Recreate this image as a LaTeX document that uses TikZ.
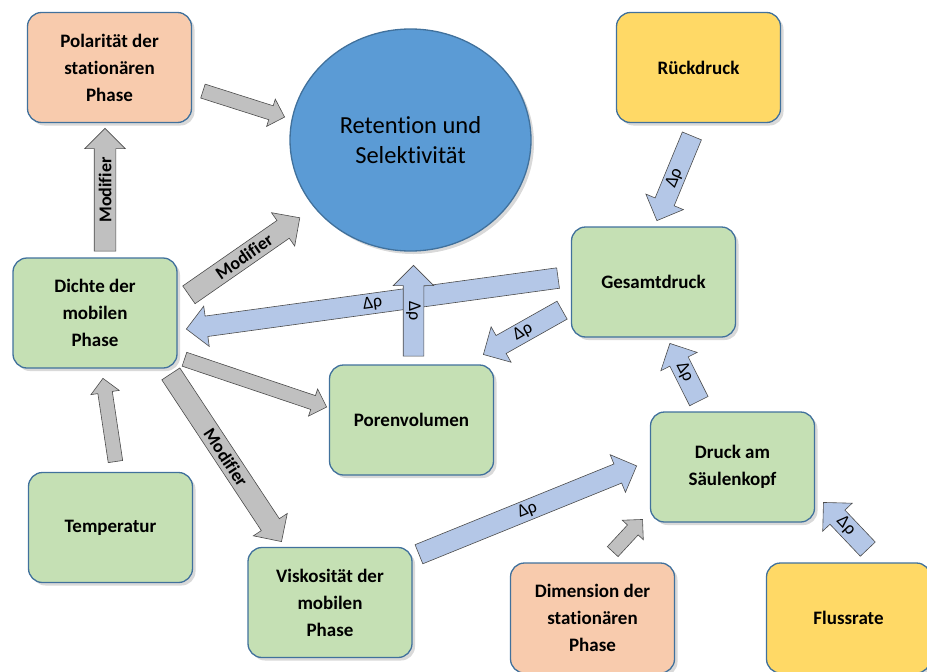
\documentclass[tikz,border=0pt]{standalone}
\usepackage{fontspec}
\setmainfont{Carlito}[Ligatures=NoCommon]
\usetikzlibrary{shapes.geometric,shapes.arrows,shadows,calc}

\definecolor{boxgreen}{HTML}{C5E0B4}
\definecolor{boxpeach}{HTML}{F8CBAD}
\definecolor{boxyellow}{HTML}{FFD966}
\definecolor{retblue}{HTML}{5B9BD5}
\definecolor{boxline}{HTML}{41719C}
\definecolor{arrowblue}{HTML}{B4C7E7}
\definecolor{arrowgray}{HTML}{C0C0C0}

\newcommand{\barrow}[5][]{%
	\path let \p1=($(#4)-(#3)$), \n1={veclen(\x1,\y1)} in
		(#3) -- (#4)
		node[#2, pos=0, sloped, allow upside down, anchor=tail, minimum height=\n1] {}
		node[pos=.5, sloped, arrow label, #1] {#5};
}

\begin{document}
\begin{tikzpicture}[x=1pt, y=1pt]
		\tikzset{
			factor/.style = {rectangle, rounded corners=14pt, draw=boxline, line width=1.3pt,
					minimum width=164pt, minimum height=110pt, inner sep=0pt, align=center,
					font=\bfseries\fontsize{19}{27}\selectfont,
					drop shadow={shadow xshift=3pt, shadow yshift=-3pt, opacity=.3}},
			green factor/.style = {factor, fill=boxgreen},
			peach factor/.style = {factor, fill=boxpeach},
			yellow factor/.style = {factor, fill=boxyellow},
			target/.style = {ellipse, draw=boxline, line width=1.3pt, fill=retblue,
					minimum width=241pt, minimum height=222pt, inner sep=0pt, align=center,
					font=\fontsize{24.5}{30}\selectfont,
					drop shadow={shadow xshift=3pt, shadow yshift=-3pt, opacity=.3}},
			block arrow/.style = {single arrow, draw=black!70, line width=.6pt, inner sep=0pt,
					minimum width=0pt, single arrow head indent=0pt, single arrow tip angle=90},
			gray arrow/.style = {block arrow, fill=arrowgray, inner ysep=10.5pt, single arrow head extend=9.5pt},
			small gray arrow/.style = {block arrow, fill=arrowgray, inner ysep=7pt, single arrow head extend=7pt},
			blue arrow/.style = {block arrow, fill=arrowblue, inner ysep=10pt, single arrow head extend=10pt},
			arrow label/.style = {inner sep=0pt, font=\fontsize{18}{20}\selectfont},
			mod label/.style = {font=\bfseries\fontsize{18}{20}\selectfont}
		}

		\useasboundingbox (0,0) rectangle (927,-672);

		\node[peach factor] (pol) at (109.5,-67.5) {Polarität der\\stationären\\Phase};
		\node[target] (ret) at (410.5,-140) {Retention und\\Selektivität};
		\node[yellow factor] (rueck) at (698.5,-67.5) {Rückdruck};
		\node[green factor] (gesamt) at (653.5,-282) {Gesamtdruck};
		\node[green factor] (dichte) at (95,-313) {Dichte der\\mobilen\\Phase};
		\node[green factor] (poren) at (411.5,-420) {Porenvolumen};
		\node[green factor] (druck) at (732.5,-467) {Druck am\\Säulenkopf};
		\node[green factor] (temp) at (110.5,-527.5) {Temperatur};
		\node[green factor] (visk) at (330,-602.5) {Viskosität der\\mobilen\\Phase};
		\node[peach factor] (dim) at (592.5,-618) {Dimension der\\stationären\\Phase};
		\node[yellow factor] (fluss) at (848.5,-618) {Flussrate};

		\coordinate (polret-s) at ([shift={(10.5,-23.5)}]pol.east);
		\coordinate (polret-t) at ([shift={(-5,23)}]ret.west);
		\coordinate (dichtepol-s) at ([shift={(10,6)}]dichte.north);
		\coordinate (dichtepol-t) at ([shift={(-4.5,-5.5)}]pol.south);
		\coordinate (dichteret-s) at ([shift={(11,18)}]dichte.east);
		\coordinate (dichteret-t) at ([shift={(-25.3,1)}]ret.south west);
		\coordinate (gesamtdichte-s) at ([shift={(-12.5,4)}]gesamt.west);
		\coordinate (gesamtdichte-t) at ([shift={(9,-16)}]dichte.east);
		\coordinate (porenret-s) at ([shift={(2,8)}]poren.north);
		\coordinate (porenret-t) at ([shift={(3,-14)}]ret.south);
		\coordinate (gesamtporen-s) at ([shift={(-8.5,-28)}]gesamt.west);
		\coordinate (gesamtporen-t) at ([shift={(-10.5,10)}]poren.north east);
		\coordinate (dichteporen-s) at ([shift={(6.5,9.5)}]dichte.south east);
		\coordinate (dichteporen-t) at ([shift={(-2.5,13)}]poren.west);
		\coordinate (dichtevisk-s) at ([shift={(-7,-5)}]dichte.south east);
		\coordinate (dichtevisk-t) at ([shift={(34,5.5)}]visk.north west);
		\coordinate (tempdichte-s) at ([shift={(5,10)}]temp.north);
		\coordinate (tempdichte-t) at ([shift={(8,-10)}]dichte.south);
		\coordinate (rueckgesamt-s) at ([shift={(-6.5,-12.5)}]rueck.south);
		\coordinate (rueckgesamt-t) at ([shift={(3.5,6)}]gesamt.north);
		\coordinate (druckgesamt-s) at ([shift={(-33.5,10)}]druck.north);
		\coordinate (druckgesamt-t) at ([shift={(16.5,-6)}]gesamt.south);
		\coordinate (viskdruck-s) at ([shift={(6,-7.5)}]visk.north east);
		\coordinate (viskdruck-t) at ([shift={(-13.5,1)}]druck.west);
		\coordinate (dimdruck-s) at ([shift={(20,10.5)}]dim.north);
		\coordinate (dimdruck-t) at ([shift={(-7.5,3)}]druck.south west);
		\coordinate (flussdruck-s) at ([shift={(19.5,13)}]fluss.north);
		\coordinate (flussdruck-t) at ([shift={(8.5,20)}]druck.south east);

		\barrow{small gray arrow}{polret-s}{polret-t}{}
		\barrow[mod label]{gray arrow}{dichtepol-s}{dichtepol-t}{Modifier}
		\barrow[mod label]{gray arrow}{dichteret-s}{dichteret-t}{Modifier}
		\barrow{blue arrow}{gesamtdichte-s}{gesamtdichte-t}{Δρ}
		\barrow[rotate=180]{blue arrow}{porenret-s}{porenret-t}{Δρ}
		\barrow{blue arrow}{gesamtporen-s}{gesamtporen-t}{Δρ}
		\barrow{small gray arrow}{dichteporen-s}{dichteporen-t}{}
		\barrow[mod label]{gray arrow}{dichtevisk-s}{dichtevisk-t}{Modifier}
		\barrow{small gray arrow}{tempdichte-s}{tempdichte-t}{}
		\barrow{blue arrow}{rueckgesamt-s}{rueckgesamt-t}{Δρ}
		\barrow{blue arrow}{druckgesamt-s}{druckgesamt-t}{Δρ}
		\barrow{blue arrow}{viskdruck-s}{viskdruck-t}{Δρ}
		\barrow{small gray arrow}{dimdruck-s}{dimdruck-t}{}
		\barrow{blue arrow}{flussdruck-s}{flussdruck-t}{Δρ}
	\end{tikzpicture}
\end{document}
